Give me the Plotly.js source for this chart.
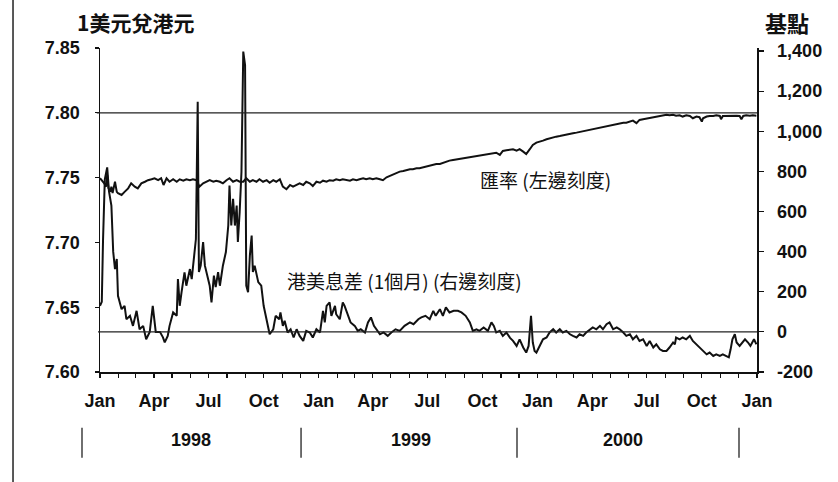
<!DOCTYPE html>
<html>
<head>
<meta charset="utf-8">
<script src="https://cdn.plot.ly/plotly-3.0.1.min.js"></script>
<style>
html,body{margin:0;padding:0;background:#fff;}
#chart{width:838px;height:482px;}
</style>
</head>
<body>
<div id="chart"></div>
<script>
// Exchange rate (HKD per 1 USD), left scale
const fxDates = [
"1998-01-01","1998-01-04","1998-01-08","1998-01-11","1998-01-13","1998-01-15","1998-01-18","1998-01-20","1998-01-22","1998-01-26",
"1998-01-29","1998-01-31","1998-02-06","1998-02-11","1998-02-17","1998-02-22","1998-02-28","1998-03-05","1998-03-11","1998-03-17",
"1998-03-22","1998-03-28","1998-04-02","1998-04-08","1998-04-13","1998-04-17","1998-04-22","1998-04-27","1998-05-03","1998-05-09",
"1998-05-14","1998-05-20","1998-05-25","1998-05-31","1998-06-05","1998-06-11","1998-06-16","1998-06-22","1998-06-28","1998-07-03",
"1998-07-09","1998-07-14","1998-07-20","1998-07-25","1998-07-31","1998-08-05","1998-08-11","1998-08-17","1998-08-22","1998-08-28",
"1998-09-02","1998-09-08","1998-09-13","1998-09-19","1998-09-24","1998-09-30","1998-10-06","1998-10-11","1998-10-17","1998-10-22",
"1998-10-28","1998-11-02","1998-11-08","1998-11-14","1998-11-19","1998-11-25","1998-11-30","1998-12-06","1998-12-11","1998-12-17",
"1998-12-22","1998-12-28","1999-01-03","1999-01-08","1999-01-14","1999-01-19","1999-01-25","1999-01-30","1999-02-05","1999-02-10",
"1999-02-16","1999-02-22","1999-02-27","1999-03-05","1999-03-10","1999-03-16","1999-03-21","1999-03-27","1999-04-01","1999-04-07",
"1999-04-13","1999-04-18","1999-04-24","1999-04-29","1999-05-05","1999-05-10","1999-05-16","1999-05-22","1999-05-27","1999-06-02",
"1999-06-07","1999-06-13","1999-06-18","1999-06-24","1999-06-30","1999-07-05","1999-07-11","1999-07-16","1999-07-22","1999-07-27",
"1999-08-02","1999-08-07","1999-08-13","1999-08-19","1999-08-30","1999-09-10","1999-09-21","1999-10-02","1999-10-13","1999-10-24",
"1999-10-30","1999-11-04","1999-11-10","1999-11-16","1999-11-21","1999-11-27","1999-12-02","1999-12-08","1999-12-13","1999-12-19",
"1999-12-24","1999-12-30","2000-01-05","2000-01-10","2000-01-16","2000-01-21","2000-01-27","2000-02-01","2000-02-07","2000-02-12",
"2000-02-18","2000-02-24","2000-02-29","2000-03-06","2000-03-11","2000-03-17","2000-03-22","2000-03-28","2000-04-02","2000-04-08",
"2000-04-14","2000-04-19","2000-04-25","2000-04-30","2000-05-06","2000-05-12","2000-05-17","2000-05-23","2000-05-28","2000-06-03",
"2000-06-08","2000-06-14","2000-06-19","2000-06-25","2000-07-01","2000-07-06","2000-07-12","2000-07-17","2000-07-23","2000-07-28",
"2000-08-03","2000-08-08","2000-08-14","2000-08-19","2000-08-25","2000-08-30","2000-09-05","2000-09-11","2000-09-16","2000-09-22",
"2000-09-27","2000-10-01","2000-10-03","2000-10-09","2000-10-14","2000-10-20","2000-10-25","2000-10-31","2000-11-02","2000-11-05",
"2000-11-11","2000-11-17","2000-11-22","2000-11-28","2000-12-03","2000-12-06","2000-12-09","2000-12-14","2000-12-20","2000-12-25",
"2000-12-31"
];
const fxRate = [
7.7495,7.7480,7.7456,7.7430,7.7520,7.7420,7.7390,7.7430,7.7380,7.7468,
7.7390,7.7380,7.7366,7.7390,7.7417,7.7456,7.7430,7.7417,7.7456,7.7468,
7.7480,7.7487,7.7495,7.7480,7.7495,7.7443,7.7495,7.7468,7.7487,7.7468,
7.7487,7.7476,7.7487,7.7480,7.7487,7.7480,7.7430,7.7456,7.7468,7.7480,
7.7468,7.7476,7.7468,7.7456,7.7480,7.7495,7.7468,7.7480,7.7468,7.7468,
7.7495,7.7468,7.7480,7.7468,7.7487,7.7468,7.7480,7.7460,7.7480,7.7468,
7.7487,7.7430,7.7410,7.7443,7.7430,7.7443,7.7456,7.7443,7.7468,7.7456,
7.7435,7.7468,7.7460,7.7476,7.7468,7.7480,7.7476,7.7487,7.7480,7.7487,
7.7480,7.7476,7.7487,7.7480,7.7487,7.7495,7.7487,7.7495,7.7487,7.7495,
7.7487,7.7480,7.7502,7.7512,7.7520,7.7533,7.7546,7.7551,7.7559,7.7564,
7.7564,7.7572,7.7572,7.7580,7.7584,7.7590,7.7597,7.7605,7.7605,7.7615,
7.7623,7.7631,7.7636,7.7641,7.7646,7.7657,7.7667,7.7672,7.7682,7.7692,
7.7675,7.7706,7.7711,7.7713,7.7719,7.7708,7.7719,7.7700,7.7682,7.7719,
7.7752,7.7770,7.7777,7.7785,7.7796,7.7804,7.7811,7.7816,7.7821,7.7827,
7.7832,7.7837,7.7842,7.7847,7.7852,7.7858,7.7862,7.7868,7.7873,7.7878,
7.7883,7.7889,7.7893,7.7899,7.7904,7.7909,7.7914,7.7924,7.7924,7.7932,
7.7940,7.7920,7.7945,7.7950,7.7955,7.7958,7.7966,7.7971,7.7976,7.7981,
7.7984,7.7981,7.7984,7.7978,7.7981,7.7971,7.7981,7.7976,7.7958,7.7971,
7.7966,7.7932,7.7958,7.7971,7.7976,7.7976,7.7981,7.7976,7.7950,7.7976,
7.7978,7.7978,7.7981,7.7978,7.7976,7.7950,7.7976,7.7981,7.7978,7.7981,
7.7978
];

// HK-US 1-month interest rate spread (basis points), right scale
const spreadDates = [
"1998-01-01","1998-01-04","1998-01-06","1998-01-09","1998-01-13","1998-01-16","1998-01-20","1998-01-23","1998-01-26","1998-01-29",
"1998-01-31","1998-02-06","1998-02-11","1998-02-14","1998-02-20","1998-02-25","1998-03-03","1998-03-08","1998-03-14","1998-03-19",
"1998-03-25","1998-03-30","1998-04-04","1998-04-11","1998-04-16","1998-04-19","1998-04-24","1998-04-27","1998-05-03","1998-05-09",
"1998-05-11","1998-05-14","1998-05-17","1998-05-22","1998-05-25","1998-05-31","1998-06-03","1998-06-06","1998-06-10","1998-06-13",
"1998-06-15","1998-06-18","1998-06-22","1998-06-25","1998-06-30","1998-07-03","1998-07-06","1998-07-10","1998-07-13","1998-07-17",
"1998-07-20","1998-07-25","1998-07-30","1998-08-03","1998-08-05","1998-08-08","1998-08-11","1998-08-14","1998-08-17","1998-08-19",
"1998-08-22","1998-08-25","1998-08-28","1998-08-31","1998-09-02","1998-09-05","1998-09-08","1998-09-11","1998-09-13","1998-09-16",
"1998-09-22","1998-09-27","1998-10-01","1998-10-06","1998-10-11","1998-10-17","1998-10-21","1998-10-27","1998-10-29","1998-11-02",
"1998-11-05","1998-11-10","1998-11-15","1998-11-20","1998-11-25","1998-11-30","1998-12-06","1998-12-11","1998-12-17","1998-12-22",
"1998-12-28","1999-01-03","1999-01-08","1999-01-11","1999-01-14","1999-01-19","1999-01-22","1999-01-28","1999-01-30","1999-02-05",
"1999-02-10","1999-02-13","1999-02-19","1999-02-23","1999-03-02","1999-03-07","1999-03-12","1999-03-19","1999-03-24","1999-03-29",
"1999-04-03","1999-04-07","1999-04-13","1999-04-19","1999-04-26","1999-05-02","1999-05-09","1999-05-16","1999-05-24","1999-06-02",
"1999-06-08","1999-06-16","1999-06-21","1999-06-28","1999-07-05","1999-07-11","1999-07-15","1999-07-22","1999-07-27","1999-08-01",
"1999-08-07","1999-08-14","1999-08-21","1999-08-27","1999-09-03","1999-09-10","1999-09-15","1999-09-21","1999-09-26","1999-10-03",
"1999-10-10","1999-10-16","1999-10-20","1999-10-24","1999-10-30","1999-11-04","1999-11-10","1999-11-16","1999-11-21","1999-11-27",
"1999-12-02","1999-12-08","1999-12-13","1999-12-17","1999-12-19","1999-12-21","1999-12-24","1999-12-27","1999-12-30","2000-01-05",
"2000-01-10","2000-01-16","2000-01-21","2000-01-27","2000-02-01","2000-02-07","2000-02-12","2000-02-18","2000-02-24","2000-02-29",
"2000-03-06","2000-03-11","2000-03-17","2000-03-22","2000-03-28","2000-04-02","2000-04-08","2000-04-14","2000-04-19","2000-04-25",
"2000-04-30","2000-05-06","2000-05-12","2000-05-17","2000-05-23","2000-05-28","2000-06-03","2000-06-08","2000-06-14","2000-06-19",
"2000-06-25","2000-07-01","2000-07-06","2000-07-12","2000-07-17","2000-07-23","2000-07-28","2000-08-03","2000-08-08","2000-08-14",
"2000-08-17","2000-08-19","2000-08-25","2000-08-30","2000-09-05","2000-09-11","2000-09-16","2000-09-22","2000-09-27","2000-10-03",
"2000-10-09","2000-10-14","2000-10-20","2000-10-25","2000-10-31","2000-11-05","2000-11-11","2000-11-15","2000-11-18","2000-11-21",
"2000-11-25","2000-11-28","2000-12-03","2000-12-09","2000-12-12","2000-12-17","2000-12-21","2000-12-27","2000-12-31"
];
const spreadBp = [
130,150,450,760,820,700,630,400,313,363,
180,113,130,63,80,30,105,13,30,-37,
0,130,0,0,-27,-52,-20,30,97,80,
263,130,197,297,230,313,263,363,463,1147,
298,330,448,330,263,230,147,280,223,298,
230,330,398,530,730,530,663,530,630,448,
598,798,1397,1330,230,198,380,480,298,330,
248,230,130,63,-12,13,80,63,97,30,
55,-3,13,-28,13,-20,-45,5,-3,-28,
13,-3,105,47,130,147,80,130,88,63,
147,130,80,47,30,5,13,-3,47,72,
30,13,-12,-3,-20,-3,13,5,30,47,
38,63,72,80,63,105,80,113,80,122,
97,105,105,97,80,47,5,13,5,22,
5,47,30,-3,5,-20,-3,-30,-45,-70,
-37,-78,-103,-70,-3,80,-53,-95,-103,-70,
-37,-28,-3,13,-3,13,-3,5,-12,-20,
-28,-12,-20,-3,13,22,13,30,13,38,
47,13,22,13,-3,-20,-12,-37,-20,-45,
-37,-70,-45,-78,-62,-87,-95,-95,-78,-53,
-62,-28,-37,-28,-37,-20,-45,-62,-78,-95,
-112,-103,-120,-112,-120,-112,-120,-127,-87,-37,
-12,-53,-70,-45,-37,-53,-70,-37,-62
];

const leftTickVals = [7.60, 7.65, 7.70, 7.75, 7.80, 7.85];
const rightTickVals = [-200, 0, 200, 400, 600, 800, 1000, 1200, 1400];
const rightTickText = ["-200", "0", "200", "400", "600", "800", "1,000", "1,200", "1,400"];
const yearLabels = ["1998", "1999", "2000"];
const refRate = 7.80;
const refSpread = 0;

const numFont = {family: "Liberation Sans, Arial, sans-serif", size: 18, color: "#111", weight: "bold"};
const cjk = "Noto Sans CJK TC, Noto Sans CJK SC, sans-serif";

const traces = [
  {x: fxDates, y: fxRate, type: "scatter", mode: "lines", yaxis: "y",
   line: {color: "#111", width: 2}, hoverinfo: "skip", showlegend: false},
  {x: spreadDates, y: spreadBp, type: "scatter", mode: "lines", yaxis: "y2",
   line: {color: "#111", width: 2}, hoverinfo: "skip", showlegend: false}
];

// year label positions (paper) and separators
const yearX = [0.1385, 0.4734, 0.796];
const sepX = [-0.0274, 0.306, 0.6347, 0.9726];

const shapes = [
  {type: "line", xref: "paper", yref: "y", x0: -0.005, x1: 1, y0: refRate, y1: refRate, line: {color: "#222", width: 1.2}},
  {type: "line", xref: "paper", yref: "y2", x0: -0.003, x1: 1, y0: refSpread, y1: refSpread, line: {color: "#222", width: 1.2}},
  {type: "line", xref: "paper", yref: "paper", x0: -0.1324, x1: -0.1324, y0: -0.345, y1: 1.15, line: {color: "#222", width: 1.5}}
];
sepX.forEach(function (sx) {
  shapes.push({type: "line", xref: "paper", yref: "paper", x0: sx, x1: sx, y0: -0.172, y1: -0.265, line: {color: "#222", width: 1.3}});
});

const annotations = [
  {xref: "paper", yref: "paper", x: -0.0381, y: 1.080, xanchor: "left", yanchor: "middle", showarrow: false,
   text: "1美元兌港元", font: {family: cjk, size: 21, color: "#111", weight: "bold"}},
  {xref: "paper", yref: "paper", x: 1.009, y: 1.080, xanchor: "left", yanchor: "middle", showarrow: false,
   text: "基點", font: {family: cjk, size: 22, color: "#111", weight: "bold"}},
  {xref: "paper", yref: "paper", x: 0.5753, y: 0.5926, xanchor: "left", yanchor: "middle", showarrow: false,
   text: "匯率 (左邊刻度)", font: {family: cjk, size: 19, color: "#111"}},
  {xref: "paper", yref: "paper", x: 0.2816, y: 0.2809, xanchor: "left", yanchor: "middle", showarrow: false,
   text: "港美息差 (1個月) (右邊刻度)", font: {family: cjk, size: 19, color: "#111"}}
];
yearLabels.forEach(function (t, i) {
  annotations.push({xref: "paper", yref: "paper", x: yearX[i], y: -0.21, xanchor: "center", yanchor: "middle",
    showarrow: false, text: t, font: {family: "Liberation Sans, Arial, sans-serif", size: 18, color: "#111", weight: "bold"}});
});

const layout = {
  width: 838, height: 482,
  margin: {l: 100, r: 81, t: 48, b: 110, pad: 0},
  paper_bgcolor: "#fff", plot_bgcolor: "#fff",
  showlegend: false,
  xaxis: {
    type: "date", range: ["1998-01-01", "2001-01-01"],
    tick0: "1998-01-01", dtick: "M3", tickformat: "%b",
    ticks: "outside", ticklen: 4, tickwidth: 1.2, tickcolor: "#111",
    showline: true, linecolor: "#111", linewidth: 2, showgrid: false, zeroline: false,
    tickfont: numFont, ticklabelstandoff: 7,
    minor: {dtick: "M1", ticks: "outside", ticklen: 4, tickwidth: 1.2, tickcolor: "#111", showgrid: false}
  },
  yaxis: {
    range: [7.60, 7.85], tickvals: leftTickVals, tickformat: ".2f",
    ticks: "outside", ticklen: 4, tickwidth: 1.2, tickcolor: "#111",
    showline: true, linecolor: "#111", linewidth: 1.5, showgrid: false, zeroline: false,
    tickfont: numFont, ticklabelstandoff: 11
  },
  yaxis2: {
    overlaying: "y", side: "right", range: [-200, 1415],
    tickvals: rightTickVals, ticktext: rightTickText,
    ticks: "outside", ticklen: 5, tickwidth: 1.2, tickcolor: "#111",
    showline: true, linecolor: "#111", linewidth: 1.5, showgrid: false, zeroline: false,
    tickfont: numFont, ticklabelstandoff: 10
  },
  shapes: shapes,
  annotations: annotations
};

Plotly.newPlot("chart", traces, layout, {staticPlot: true, displayModeBar: false});
</script>
</body>
</html>
